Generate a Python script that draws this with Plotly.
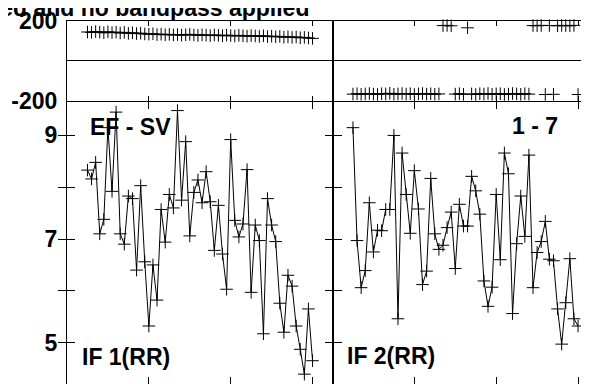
import plotly.graph_objects as go

OUTPUT_HTML = "out.html"

# Sample times (minutes), shared by both IFs
TIME = [5, 6, 7, 8, 9, 10, 11, 12, 13, 14, 15, 16, 17, 18, 19, 20, 21, 22, 23, 24,
        25, 26, 27, 28, 29, 30, 31, 32, 33, 34, 35, 36, 37, 38, 39, 40, 41, 42, 43, 44,
        45, 46, 47, 48, 49, 50, 51, 52, 53, 54, 55, 56, 57, 58, 59, 60]

# IF 1 (RR)
PHASE_IF1 = [145, 143, 147, 144, 141, 146, 142, 144, 140, 143, 138, 141, 137, 139, 135, 134,
             136, 132, 134, 131, 133, 130, 132, 129, 131, 133, 130, 128, 131, 129, 127, 130,
             128, 126, 129, 127, 125, 128, 126, 124, 127, 125, 123, 126, 122, 124, 121, 123,
             119, 121, 118, 120, 116, 118, 115, 113]
AMP_IF1 = [8.33, 8.16, 8.48, 7.10, 7.38, 9.15, 7.92, 9.45, 7.10, 6.90, 7.83, 7.78, 6.40, 8.03,
           6.56, 5.32, 6.50, 5.82, 7.57, 6.94, 7.86, 7.60, 9.48, 7.75, 8.88, 7.06, 7.90, 8.14,
           7.70, 8.30, 7.72, 6.78, 7.65, 6.71, 6.03, 8.92, 7.36, 7.04, 7.29, 8.34, 5.97, 7.27,
           6.97, 5.17, 7.78, 7.27, 6.95, 5.76, 5.20, 6.30, 6.09, 5.32, 4.87, 4.39, 5.65, 4.65]

# IF 2 (RR) - phase wraps around +/-180
PHASE_IF2 = [-166, -164, -167, -165, -163, -166, -168, -164, -165, -162, -167, -165, -163, -166,
             -164, -168, -165, -163, -166, -164, -167, -165, 177, 178, 176, -166, -164, -167,
             166, -165, -168, -164, -166, -163, -167, -165, -164, -168, -166, -163, -165, -167,
             -164, -166, 177, 176, 178, -168, 177, -167, 176, 178, 177, 176, 178, -168]
AMP_IF2 = [9.15, 6.97, 6.06, 6.39, 7.70, 6.75, 7.17, 7.16, 7.57, 7.57, 9.00, 5.46, 8.66, 7.86,
           7.11, 8.32, 7.58, 6.12, 6.38, 8.17, 7.10, 6.80, 6.88, 7.22, 7.52, 6.43, 7.67, 7.25,
           7.25, 8.21, 7.93, 7.48, 6.19, 5.70, 6.07, 7.86, 6.60, 8.66, 8.26, 5.56, 6.91, 7.83,
           7.05, 8.62, 6.06, 6.74, 6.95, 7.34, 6.61, 6.58, 5.65, 4.97, 5.77, 6.62, 5.46, 5.32]

TITLE = "Calibration applied and no bandpass applied"
BASELINE = "EF - SV"
SOURCE = "1 - 7"
IF_LABELS = ["IF 1(RR)", "IF 2(RR)"]

PHASE_TICKS = [-200, 200]
PHASE_TICKTEXT = ["-200", "200"]
AMP_TICKS = [5, 6, 7, 8, 9]
AMP_TICKTEXT = ["5", "", "7", "", "9"]
TIME_TICKS = [20, 40, 60]

FONT = "Liberation Sans, Arial, Helvetica, sans-serif"
INK = "black"

# Layout targets measured on the screenshot (pixels)
BODY = 8                # default body margin around the plot div
SQUASH = 0.96           # vertical page->screenshot scale seen in the renders
SHIFT = 2.5             # ... and offset
LEFT_EDGE = 67          # left frame of IF 1
PANEL_W = 266
PX_PER_MIN = 4.1
TOP_S = 16              # top of phase panels
MID_S = 97              # phase / amplitude border
AMP9_S = 132            # amplitude 9
AMP_S_PER_UNIT = 52.5
BOTTOM_S = 385          # bottom of amplitude panels (just off the page)


def fig_y(screen_y):
    # screenshot y -> figure pixel y
    return (screen_y - SHIFT) / SQUASH - BODY


ML = LEFT_EDGE - BODY
W = ML + 2 * PANEL_W
MT = fig_y(TOP_S)
H = fig_y(BOTTOM_S)
PLOT_W = 2 * PANEL_W
PLOT_H = H - MT


def px_x(px):
    return (px - LEFT_EDGE) / PLOT_W


def px_y(screen_y):
    return (H - fig_y(screen_y)) / PLOT_H


def split_wraps(t, ph):
    # break the line where the phase jumps across the +/-180 wrap
    xs, ys = [], []
    for i in range(len(t)):
        if i > 0 and abs(ph[i] - ph[i - 1]) > 180:
            xs.append(None)
            ys.append(None)
        xs.append(t[i])
        ys.append(ph[i])
    return xs, ys


def series(x, y, xa, ya):
    return go.Scatter(
        x=x, y=y, xaxis=xa, yaxis=ya,
        mode="lines+markers",
        line=dict(color=INK, width=1),
        marker=dict(symbol="cross-thin", size=9, line=dict(color=INK, width=1)),
        connectgaps=False,
        cliponaxis=False,
        showlegend=False,
        hoverinfo="skip",
    )


def build():
    fig = go.Figure()

    x1, p1 = split_wraps(TIME, PHASE_IF1)
    x2, p2 = split_wraps(TIME, PHASE_IF2)
    fig.add_trace(series(x1, p1, "x", "y"))
    fig.add_trace(series(x2, p2, "x2", "y2"))
    fig.add_trace(series(TIME, AMP_IF1, "x3", "y3"))
    fig.add_trace(series(TIME, AMP_IF2, "x4", "y4"))
    # carrier for the outside tick marks / labels of the left amplitude axis
    fig.add_trace(go.Scatter(x=[TIME[0]], y=[AMP_IF1[0]], xaxis="x3", yaxis="y5",
                             mode="markers", marker=dict(opacity=0), showlegend=False,
                             hoverinfo="skip"))

    split = 0.5
    phase_lo = px_y(MID_S)
    t_range = [0, PANEL_W / PX_PER_MIN]
    amp_top = 9 + (AMP9_S - MID_S) / AMP_S_PER_UNIT
    amp_bot = 9 - (BOTTOM_S - AMP9_S) / AMP_S_PER_UNIT

    tickfont = dict(family=FONT, size=23, color=INK, weight="bold")
    common_x = dict(showgrid=False, zeroline=False, tickmode="array", tickvals=TIME_TICKS,
                    showticklabels=False, tickcolor=INK, tickwidth=1, linecolor=INK,
                    linewidth=1, range=t_range)
    phase_y = dict(range=[-200, 200], domain=[phase_lo, 1], showline=True, linecolor=INK,
                   linewidth=1, showgrid=False, zeroline=True, zerolinecolor=INK,
                   zerolinewidth=1)
    amp_y = dict(domain=[0, phase_lo], range=[amp_bot, amp_top], tickmode="array",
                 tickvals=AMP_TICKS, showticklabels=False, ticks="inside", ticklen=8,
                 tickcolor=INK, tickwidth=1, showline=True, mirror="ticks",
                 linecolor=INK, linewidth=1, showgrid=False, zeroline=False)

    fig.update_layout(
        width=W, height=H,
        margin=dict(l=ML, r=0, t=MT, b=0, pad=0),
        paper_bgcolor="white", plot_bgcolor="white",
        showlegend=False,
        xaxis=dict(common_x, domain=[0, split], anchor="y",
                   ticks="inside", ticklen=5, showline=True, mirror="ticks"),
        xaxis2=dict(common_x, domain=[split, 1], anchor="y2",
                    ticks="inside", ticklen=5, showline=True, mirror="ticks"),
        xaxis3=dict(common_x, domain=[0, split], anchor="y3",
                    ticks="inside", ticklen=8, showline=False, mirror="ticks"),
        xaxis4=dict(common_x, domain=[split, 1], anchor="y4",
                    ticks="inside", ticklen=8, showline=False, mirror="ticks"),
        yaxis=dict(phase_y, anchor="x", tickmode="array", tickvals=PHASE_TICKS,
                   ticktext=PHASE_TICKTEXT, ticks="", tickfont=tickfont,
                   ticklabelstandoff=4, ticklabeloverflow="allow", mirror=True),
        yaxis2=dict(phase_y, anchor="x2", showticklabels=False, ticks="", mirror=True),
        yaxis3=dict(amp_y, anchor="x3"),
        yaxis4=dict(amp_y, anchor="x4"),
        yaxis5=dict(overlaying="y3", anchor="x3", side="left", range=[amp_bot, amp_top],
                    tickmode="array", tickvals=AMP_TICKS, ticktext=AMP_TICKTEXT,
                    ticks="outside", ticklen=8, tickcolor=INK, tickwidth=1,
                    tickfont=tickfont, ticklabelstandoff=-4, ticklabeloverflow="allow",
                    mirror="ticks", showline=False, showgrid=False, zeroline=False),
    )

    label_font = dict(family=FONT, size=23, color=INK, weight="bold")
    notes = [
        (TITLE, 311, 2.5, "right"),
        (BASELINE, 88, 123, "left"),
        (SOURCE, 511, 122, "left"),
        (IF_LABELS[0], 80, 357, "left"),
        (IF_LABELS[1], 346, 356, "left"),
    ]
    for text, x, y, anchor in notes:
        fig.add_annotation(text=text, xref="paper", yref="paper",
                           x=px_x(x), y=px_y(y), xanchor=anchor, yanchor="middle",
                           showarrow=False, font=label_font)
    return fig


if __name__ == "__main__":
    fig = build()
    fig.write_html(OUTPUT_HTML)
